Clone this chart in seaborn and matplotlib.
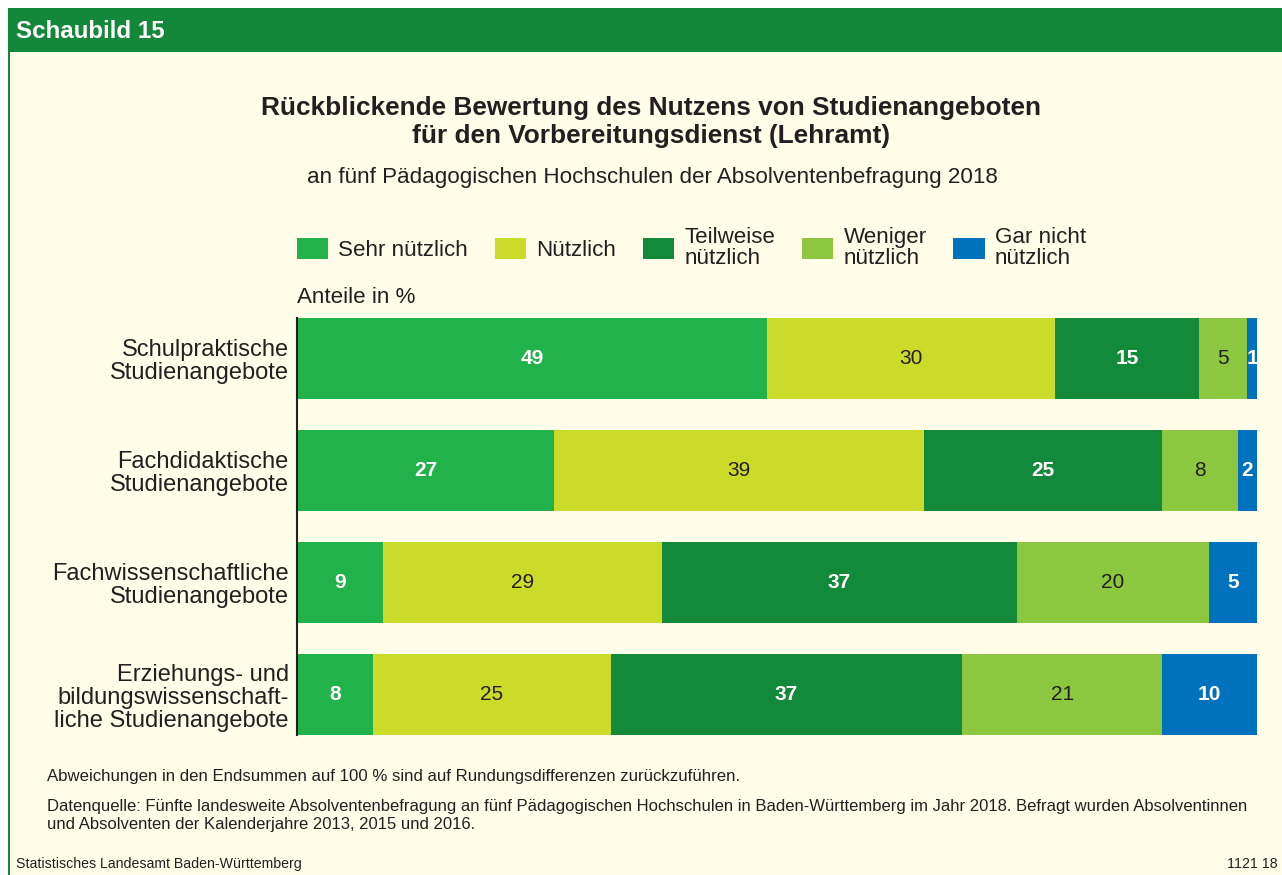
import matplotlib
matplotlib.use("Agg")
import matplotlib.pyplot as plt
from matplotlib.patches import Rectangle, Patch
import numpy as np
import pandas as pd
import seaborn as sns

# Data (displayed percentages, bars are scaled to 100 % per row)
categories = [
    "Schulpraktische\nStudienangebote",
    "Fachdidaktische\nStudienangebote",
    "Fachwissenschaftliche\nStudienangebote",
    "Erziehungs- und\nbildungswissenschaft-\nliche Studienangebote",
]
series = ["Sehr nützlich", "Nützlich", "Teilweise\nnützlich", "Weniger\nnützlich", "Gar nicht\nnützlich"]
sehr = [49, 27, 9, 8]
nuetzlich = [30, 39, 29, 25]
teilweise = [15, 25, 37, 37]
weniger = [5, 8, 20, 21]
gar_nicht = [1, 2, 5, 10]

colors = ["#22b24c", "#cbdb2a", "#13893a", "#8dc63f", "#0071bc"]
label_colors = ["white", "#231f20", "white", "#231f20", "white"]
label_weights = ["bold", "normal", "bold", "normal", "bold"]
bg = "#fffde7"
green = "#13873a"

df = pd.DataFrame({"cat": categories, "s0": sehr, "s1": nuetzlich, "s2": teilweise,
                   "s3": weniger, "s4": gar_nicht})
vals = df[["s0", "s1", "s2", "s3", "s4"]].to_numpy(dtype=float)
shares = vals / vals.sum(axis=1, keepdims=True) * 100
cum = np.cumsum(shares, axis=1)

sns.set_theme(style="white")
plt.rcParams["font.family"] = ["Liberation Sans", "DejaVu Sans"]

fig = plt.figure(figsize=(12.82, 8.75), dpi=100)
fig.patch.set_facecolor("white")

# panel background, header band and left border
fig.patches.append(Rectangle((8 / 1282, 0), 1 - 8 / 1282, 1 - 52 / 875, transform=fig.transFigure,
                             facecolor=bg, edgecolor="none", zorder=-2))
fig.patches.append(Rectangle((8 / 1282, 1 - 52 / 875), 1 - 8 / 1282, 44 / 875, transform=fig.transFigure,
                             facecolor=green, edgecolor="none", zorder=-1))
fig.patches.append(Rectangle((8 / 1282, 0), 2 / 1282, 1 - 52 / 875, transform=fig.transFigure,
                             facecolor=green, edgecolor="none", zorder=-1))
fig.text(16 / 1282, 1 - 31 / 875, "Schaubild 15", color="white", fontsize=17.4, fontweight="bold",
         va="center", ha="left")

ax = fig.add_axes([297 / 1282, 1 - 735 / 875, 960 / 1282, 417 / 875])
ax.set_facecolor("none")

# stacked bars: draw cumulative totals from the back to the front
for i in range(4, -1, -1):
    sns.barplot(x=cum[:, i], y=df["cat"], color=colors[i], orient="h", width=0.72,
                saturation=1, ax=ax, edgecolor="none", linewidth=0)

for r in range(len(categories)):
    for i in range(5):
        center = cum[r, i] - shares[r, i] / 2
        ax.text(center, r, str(int(vals[r, i])), ha="center", va="center",
                color=label_colors[i], fontweight=label_weights[i], fontsize=15)

ax.set_xlim(0, 100)
ax.set_ylim(3.36, -0.36)
ax.set_xlabel("")
ax.set_ylabel("")
ax.set_xticks([])
ax.set_yticks(range(len(categories)))
ax.set_yticklabels(categories, linespacing=1.07)
for s in ["top", "right", "bottom"]:
    ax.spines[s].set_visible(False)
ax.spines["left"].set_color("#231f20")
ax.spines["left"].set_linewidth(1.5)
ax.tick_params(axis="y", length=0, pad=6, labelsize=17, labelcolor="#231f20")

ax.text(0, 1.025, "Anteile in %", transform=ax.transAxes, ha="left", va="bottom",
        fontsize=16.1, color="#231f20")

handles = [Patch(facecolor=c, edgecolor="none") for c in colors]
leg = ax.legend(handles, series, ncol=5, loc="center left", bbox_to_anchor=(0, 1.168),
                frameon=False, fontsize=16.1, handlelength=1.4, handleheight=1.05,
                handletextpad=0.45, columnspacing=1.2, labelspacing=0.2, borderpad=0, borderaxespad=0)
for t in leg.get_texts():
    t.set_linespacing(0.95)
    t.set_color("#231f20")

fig.text(651 / 1282, 1 - 108 / 875, "Rückblickende Bewertung des Nutzens von Studienangeboten",
         ha="center", va="center", fontsize=18.9, fontweight="bold", color="#231f20")
fig.text(651 / 1282, 1 - 136 / 875, "für den Vorbereitungsdienst (Lehramt)",
         ha="center", va="center", fontsize=18.9, fontweight="bold", color="#231f20")
fig.text(652 / 1282, 1 - 177 / 875, "an fünf Pädagogischen Hochschulen der Absolventenbefragung 2018",
         ha="center", va="center", fontsize=16.1, color="#231f20")

fig.text(47 / 1282, 1 - 776 / 875,
         "Abweichungen in den Endsummen auf 100 % sind auf Rundungsdifferenzen zurückzuführen.",
         ha="left", va="center", fontsize=12.1, color="#231f20")
fig.text(47 / 1282, 1 - 816 / 875,
         "Datenquelle: Fünfte landesweite Absolventenbefragung an fünf Pädagogischen Hochschulen in "
         "Baden-Württemberg im Jahr 2018. Befragt wurden Absolventinnen\n"
         "und Absolventen der Kalenderjahre 2013, 2015 und 2016.",
         ha="left", va="center", fontsize=12, color="#231f20", linespacing=1.25)
fig.text(16 / 1282, 1 - 864 / 875, "Statistisches Landesamt Baden-Württemberg",
         ha="left", va="center", fontsize=10.2, color="#231f20")
fig.text(1278 / 1282, 1 - 864 / 875, "1121 18", ha="right", va="center", fontsize=10.2, color="#231f20")

fig.savefig("out.png", dpi=100, facecolor=fig.get_facecolor())
